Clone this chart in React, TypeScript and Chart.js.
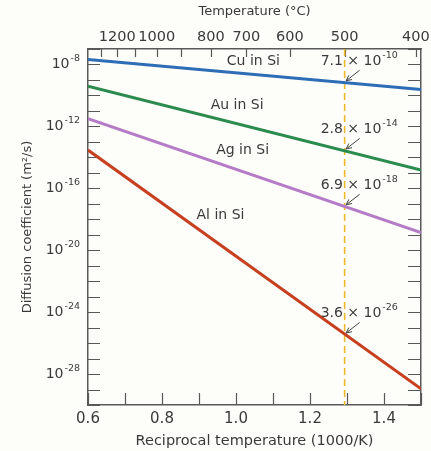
import React, { useEffect, useRef } from 'react';
import { Chart, registerables } from 'chart.js';

Chart.register(...registerables);

const FONT = "'DejaVu Sans', sans-serif";
const TEXT = '#3a3a3a';
const AXIS = '#585858';
const BG = '#fdfdf9';

// ---- axes ----
const X_MIN = 0.6;
const X_MAX = 1.5;
const X_TICKS = [0.6, 0.7, 0.8, 0.9, 1.0, 1.1, 1.2, 1.3, 1.4, 1.5];
const X_TICK_LABELS = ['0.6', '', '0.8', '', '1.0', '', '1.2', '', '1.4', ''];
const TEMP_TICKS_C = [1300, 1200, 1100, 1000, 900, 800, 700, 600, 500, 400];
const TEMP_LABELS_C = [1200, 1000, 800, 700, 600, 500, 400];
const Y_MIN_EXP = -30;
const Y_MAX_EXP = -7;
const Y_DECADES = [-30, -29, -28, -27, -26, -25, -24, -23, -22, -21, -20, -19, -18, -17, -16, -15, -14, -13, -12, -11, -10, -9, -8, -7];
const Y_LABEL_EXPONENTS = [-8, -12, -16, -20, -24, -28];

// ---- series (reciprocal temperature 1000/K -> diffusion coefficient m^2/s) ----
const SPECIES = ['Cu in Si', 'Au in Si', 'Ag in Si', 'Al in Si'];
const RECIP_T = [0.6, 1.5];
const D_CU = [2.1e-8, 2.45e-10];
const D_AU = [4.0e-10, 1.5e-15];
const D_AG = [3.2e-12, 1.4e-19];
const D_AL = [2.95e-14, 1.1e-29];

// ---- values marked at 500 °C ----
const MARK_T_C = 500;
const MARK_MANTISSA = [7.1, 2.8, 6.9, 3.6];
const MARK_EXP = [-10, -14, -18, -26];

// ---- species label anchors (data units: 1000/K, log10 D) ----
const SPECIES_LABEL_X = [1.047, 1.003, 1.018, 0.958];
const SPECIES_LABEL_LOGD = [-7.83, -10.63, -13.53, -17.73];

const COLORS = ['#2c6db5', '#2b8a4e', '#b57bc6', '#c6401f'];

const recip = (tc: number) => 1000 / (tc + 273);

const decor = {
  id: 'decor',
  beforeDraw(chart: any) {
    const { ctx, width, height } = chart;
    ctx.save();
    ctx.fillStyle = BG;
    ctx.fillRect(0, 0, width, height);
    ctx.restore();
  },
  beforeDatasetsDraw(chart: any) {
    const { ctx, chartArea: a, scales } = chart;
    const x = scales.x;
    const y = scales.y;
    ctx.save();
    ctx.strokeStyle = AXIS;
    ctx.lineWidth = 1.2;
    ctx.beginPath();
    X_TICKS.forEach((v) => {
      const px = Math.round(x.getPixelForValue(v)) + 0.5;
      ctx.moveTo(px, a.bottom);
      ctx.lineTo(px, a.bottom - 12);
    });
    TEMP_TICKS_C.forEach((t) => {
      const px = Math.round(x.getPixelForValue(recip(t))) + 0.5;
      ctx.moveTo(px, a.top);
      ctx.lineTo(px, a.top + 8);
    });
    Y_DECADES.forEach((e) => {
      const py = Math.round(y.getPixelForValue(Math.pow(10, e))) + 0.5;
      ctx.moveTo(a.left, py);
      ctx.lineTo(a.left + 12, py);
      ctx.moveTo(a.right, py);
      ctx.lineTo(a.right - 13, py);
    });
    ctx.stroke();

    // dashed 500 °C line
    const mx = x.getPixelForValue(recip(MARK_T_C));
    ctx.strokeStyle = '#f0b92c';
    ctx.lineWidth = 1.6;
    ctx.setLineDash([7, 4]);
    ctx.beginPath();
    ctx.moveTo(mx, a.top);
    ctx.lineTo(mx, a.bottom);
    ctx.stroke();
    ctx.setLineDash([]);

    // y tick labels 10^n
    ctx.fillStyle = TEXT;
    ctx.textBaseline = 'middle';
    Y_LABEL_EXPONENTS.forEach((e) => {
      const py = y.getPixelForValue(Math.pow(10, e));
      const xEnd = a.left - 8;
      ctx.font = `9.5px ${FONT}`;
      const sup = String(e);
      const sw = ctx.measureText(sup).width;
      ctx.textAlign = 'left';
      ctx.fillText(sup, xEnd - sw, py - 6);
      ctx.font = `14px ${FONT}`;
      ctx.textAlign = 'right';
      ctx.fillText('10', xEnd - sw - 1, py);
    });
    ctx.restore();
  },
  afterDatasetsDraw(chart: any) {
    const { ctx, scales } = chart;
    const x = scales.x;
    const y = scales.y;
    ctx.save();
    ctx.fillStyle = TEXT;
    ctx.strokeStyle = '#444';
    ctx.textBaseline = 'middle';

    // species labels
    ctx.font = `14px ${FONT}`;
    ctx.textAlign = 'center';
    SPECIES.forEach((s, i) => {
      ctx.fillText(s, x.getPixelForValue(SPECIES_LABEL_X[i]), y.getPixelForValue(Math.pow(10, SPECIES_LABEL_LOGD[i])));
    });

    // 500 °C value labels with arrows
    const px = x.getPixelForValue(recip(MARK_T_C));
    MARK_MANTISSA.forEach((m, i) => {
      const py = y.getPixelForValue(m * Math.pow(10, MARK_EXP[i]));
      const tx = px - 24;
      const ty = py - 21;
      ctx.textAlign = 'left';
      ctx.font = `14px ${FONT}`;
      const base = `${m.toFixed(1)} \u00d7 10`;
      ctx.fillText(base, tx, ty);
      const bw = ctx.measureText(base).width;
      ctx.font = `9.5px ${FONT}`;
      ctx.fillText(String(MARK_EXP[i]), tx + bw + 1, ty - 6);

      // arrow
      const x0 = px + 15, y0 = py - 12;
      const x1 = px + 1.5, y1 = py - 1.5;
      const ang = Math.atan2(y1 - y0, x1 - x0);
      ctx.lineWidth = 1;
      ctx.beginPath();
      ctx.moveTo(x0, y0);
      ctx.lineTo(x1, y1);
      ctx.moveTo(x1, y1);
      ctx.lineTo(x1 - 6 * Math.cos(ang - 0.45), y1 - 6 * Math.sin(ang - 0.45));
      ctx.moveTo(x1, y1);
      ctx.lineTo(x1 - 6 * Math.cos(ang + 0.45), y1 - 6 * Math.sin(ang + 0.45));
      ctx.stroke();
    });
    ctx.restore();
  },
};

export default function App() {
  const ref = useRef<HTMLCanvasElement>(null);

  useEffect(() => {
    const canvas = ref.current;
    if (!canvas) return;
    const series = [D_CU, D_AU, D_AG, D_AL];
    const chart = new Chart(canvas, {
      type: 'line',
      data: {
        datasets: series.map((d, i) => ({
          label: SPECIES[i],
          data: RECIP_T.map((xv, j) => ({ x: xv, y: d[j] })),
          borderColor: COLORS[i],
          backgroundColor: COLORS[i],
          borderWidth: 3,
          pointRadius: 0,
          fill: false,
          tension: 0,
          xAxisID: 'x',
          yAxisID: 'y',
        })),
      },
      options: {
        animation: false,
        responsive: true,
        maintainAspectRatio: false,
        layout: { padding: 0 },
        plugins: { legend: { display: false }, tooltip: { enabled: false } },
        scales: {
          x: {
            type: 'linear',
            position: 'bottom',
            min: X_MIN,
            max: X_MAX,
            afterBuildTicks: (s: any) => {
              s.ticks = X_TICKS.map((v) => ({ value: v }));
            },
            afterFit: (s: any) => {
              s.height = 46;
              s.paddingLeft = 0;
              s.paddingRight = 0;
            },
            grid: { display: false, drawTicks: false },
            border: { display: true, color: AXIS, width: 1.5 },
            ticks: {
              autoSkip: false,
              maxRotation: 0,
              minRotation: 0,
              padding: 5,
              color: TEXT,
              font: { family: FONT, size: 15 },
              callback: (_v: any, i: number) => X_TICK_LABELS[i],
            },
            title: {
              display: true,
              text: 'Reciprocal temperature (1000/K)',
              color: TEXT,
              font: { family: FONT, size: 14.5 },
              padding: { top: 0, bottom: 1 },
            },
          },
          x2: {
            type: 'linear',
            position: 'top',
            min: X_MIN,
            max: X_MAX,
            afterBuildTicks: (s: any) => {
              s.ticks = TEMP_LABELS_C.map((t) => ({ value: recip(t) }));
            },
            afterFit: (s: any) => {
              s.height = 49;
              s.paddingLeft = 0;
              s.paddingRight = 0;
            },
            grid: { display: false, drawTicks: false },
            border: { display: true, color: AXIS, width: 1.5 },
            ticks: {
              autoSkip: false,
              maxRotation: 0,
              minRotation: 0,
              padding: 3,
              color: TEXT,
              font: { family: FONT, size: 14.5 },
              callback: (_v: any, i: number) => String(TEMP_LABELS_C[i]),
            },
            title: {
              display: true,
              text: 'Temperature (\u00b0C)',
              color: TEXT,
              font: { family: FONT, size: 13 },
              padding: { top: 4, bottom: 0 },
            },
          },
          y: {
            type: 'logarithmic',
            position: 'left',
            min: Math.pow(10, Y_MIN_EXP),
            max: Math.pow(10, Y_MAX_EXP),
            afterBuildTicks: (s: any) => {
              s.ticks = Y_DECADES.map((e) => ({ value: Math.pow(10, e) }));
            },
            afterFit: (s: any) => {
              s.width = 88;
            },
            grid: { display: false, drawTicks: false },
            border: { display: true, color: AXIS, width: 1.5 },
            ticks: { display: false },
            title: {
              display: true,
              text: 'Diffusion coefficient (m\u00b2/s)',
              color: TEXT,
              font: { family: FONT, size: 13 },
              padding: { top: 20, bottom: 0 },
            },
          },
          y2: {
            type: 'logarithmic',
            position: 'right',
            min: Math.pow(10, Y_MIN_EXP),
            max: Math.pow(10, Y_MAX_EXP),
            afterBuildTicks: (s: any) => {
              s.ticks = Y_DECADES.map((e) => ({ value: Math.pow(10, e) }));
            },
            afterFit: (s: any) => {
              s.width = 10;
            },
            grid: { display: false, drawTicks: false },
            border: { display: true, color: AXIS, width: 1.5 },
            ticks: { display: false },
          },
        },
      } as any,
      plugins: [decor],
    });
    return () => chart.destroy();
  }, []);

  return (
    <div style={{ position: 'fixed', left: 0, top: 0, width: 431, height: 451, background: BG }}>
      <canvas ref={ref} />
    </div>
  );
}
